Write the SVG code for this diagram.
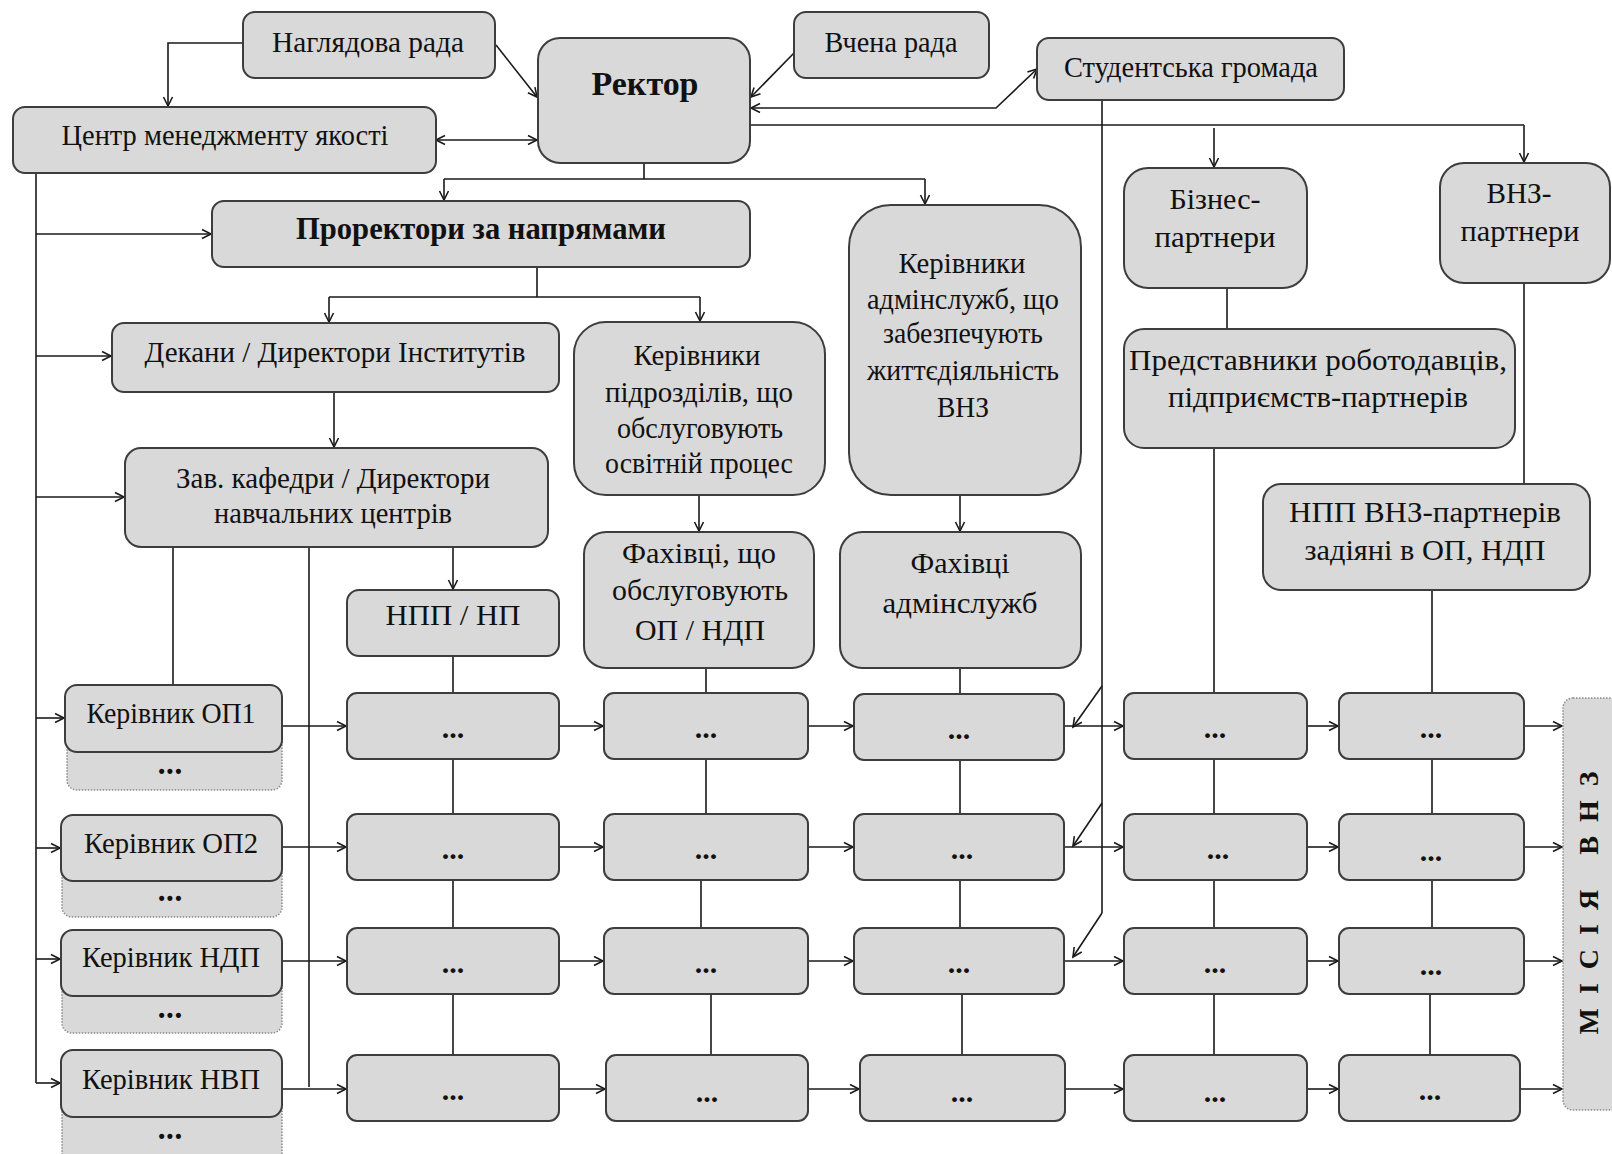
<svg xmlns="http://www.w3.org/2000/svg" width="1612" height="1154" viewBox="0 0 1612 1154">
<defs>
<marker id="ah" markerWidth="12" markerHeight="12" refX="10" refY="6" orient="auto-start-reverse" markerUnits="userSpaceOnUse">
<path d="M1,1.5 L10,6 L1,10.5" fill="none" stroke="#1a1a1a" stroke-width="1.6"/>
</marker>
<style>
.box{fill:#d9d9d9;stroke:#3d3d3d;stroke-width:2}
.dot{fill:#d9d9d9;stroke:#8a8a8a;stroke-width:1.5;stroke-dasharray:1.5 1.5}
.t{font-family:"Liberation Serif","Times New Roman",serif;font-size:29px;fill:#111;text-anchor:middle}
.b{font-weight:bold}
.e{font-family:"Liberation Serif","Times New Roman",serif;font-size:30px;font-weight:bold;fill:#111;text-anchor:middle}
.bul{font-family:"Liberation Sans",Arial,sans-serif;font-size:18px;font-weight:bold;fill:#111;text-anchor:middle;letter-spacing:2px}
.ln{fill:none;stroke:#1a1a1a;stroke-width:1.6}
.ar{marker-end:url(#ah)}
.ar2{marker-start:url(#ah);marker-end:url(#ah)}
</style>
</defs>
<rect width="1612" height="1154" fill="#ffffff"/>

<g id="connectors">
<path class="ln ar" d="M243,43 H168 V106"/>
<path class="ln ar" d="M496,45 L537,97"/>
<path class="ln ar" d="M794,53 L751,97"/>
<path class="ln ar2" d="M751,108 H996 L1037,69"/>
<path class="ln ar2" d="M436,140 H537"/>
<path class="ln" d="M750,125 H1524"/>
<path class="ln ar" d="M1524,125 V162"/>
<path class="ln ar" d="M1214,128 V167"/>
<path class="ln" d="M644,163 V179 M444,179 H925"/>
<path class="ln ar" d="M444,179 V200"/>
<path class="ln ar" d="M925,179 V204"/>
<path class="ln" d="M537,267 V297 M329,297 H700"/>
<path class="ln ar" d="M329,297 V322"/>
<path class="ln ar" d="M700,297 V321"/>
<path class="ln ar" d="M334,392 V447"/>
<path class="ln ar" d="M453,547 V589"/>
<path class="ln ar" d="M699,495 V531"/>
<path class="ln ar" d="M960,495 V531"/>
<path class="ln" d="M1227,288 V329"/>
<path class="ln" d="M1524,283 V484"/>
<path class="ln" d="M36,173 V1083"/>
<path class="ln ar" d="M36,234 H211"/>
<path class="ln ar" d="M36,356 H111"/>
<path class="ln ar" d="M36,497 H124"/>
<path class="ln ar" d="M36,718 H64"/>
<path class="ln ar" d="M36,848 H60"/>
<path class="ln ar" d="M36,959 H60"/>
<path class="ln ar" d="M36,1083 H60"/>
<path class="ln" d="M173,547 V685"/>
<path class="ln" d="M309,547 V1087"/>
<path class="ln" d="M1102,100 V913"/>
<path class="ln ar" d="M1102,913 L1073,957"/>
<path class="ln ar" d="M1102,686 L1073,727"/>
<path class="ln ar" d="M1102,803 L1073,846"/>
<path class="ln" d="M453,656 V693 M453,759 V814 M453,880 V928 M453,994 V1055"/>
<path class="ln" d="M706,668 V693 M706,759 V814 M701,880 V928 M711,994 V1055"/>
<path class="ln" d="M960,668 V693 M960,759 V814 M960,880 V928 M962,994 V1055"/>
<path class="ln" d="M1214,448 V693 M1214,759 V814 M1214,880 V928 M1214,994 V1055"/>
<path class="ln" d="M1432,590 V693 M1432,759 V814 M1432,880 V928 M1430,994 V1055"/>
<path class="ln ar" d="M282,726 H346"/>
<path class="ln ar" d="M559,726 H603"/>
<path class="ln ar" d="M808,726 H853"/>
<path class="ln ar" d="M1064,726 H1123"/>
<path class="ln ar" d="M1307,726 H1338"/>
<path class="ln ar" d="M1524,726 H1562"/>
<path class="ln ar" d="M282,847 H346"/>
<path class="ln ar" d="M559,847 H603"/>
<path class="ln ar" d="M808,847 H853"/>
<path class="ln ar" d="M1064,847 H1123"/>
<path class="ln ar" d="M1307,847 H1338"/>
<path class="ln ar" d="M1524,847 H1562"/>
<path class="ln ar" d="M282,961 H346"/>
<path class="ln ar" d="M559,961 H603"/>
<path class="ln ar" d="M808,961 H853"/>
<path class="ln ar" d="M1064,961 H1123"/>
<path class="ln ar" d="M1307,961 H1338"/>
<path class="ln ar" d="M1524,961 H1562"/>
<path class="ln ar" d="M282,1089 H346"/>
<path class="ln ar" d="M559,1089 H605"/>
<path class="ln ar" d="M808,1089 H859"/>
<path class="ln ar" d="M1065,1089 H1123"/>
<path class="ln ar" d="M1307,1089 H1338"/>
<path class="ln ar" d="M1520,1089 H1562"/>
</g>

<g id="n-nahliadova"><rect class="box" x="243" y="12" width="252" height="66" rx="12"/><text class="t" x="368" y="52" textLength="192" lengthAdjust="spacingAndGlyphs">Наглядова  рада</text></g>
<g id="n-rektor"><rect class="box" x="538" y="38" width="212" height="125" rx="22"/><text class="t b" x="645" y="95" style="font-size:34px" textLength="107" lengthAdjust="spacingAndGlyphs">Ректор</text></g>
<g id="n-vchena"><rect class="box" x="794" y="12" width="195" height="66" rx="12"/><text class="t" x="891" y="52" textLength="133" lengthAdjust="spacingAndGlyphs">Вчена рада</text></g>
<g id="n-student"><rect class="box" x="1037" y="38" width="307" height="62" rx="12"/><text class="t" x="1191" y="77" textLength="254" lengthAdjust="spacingAndGlyphs">Студентська громада</text></g>
<g id="n-centr"><rect class="box" x="13" y="107" width="423" height="66" rx="12"/><text class="t" x="225" y="145" textLength="327" lengthAdjust="spacingAndGlyphs">Центр менеджменту якості</text></g>
<g id="n-prorektory"><rect class="box" x="212" y="201" width="538" height="66" rx="12"/><text class="t b" x="481" y="239" style="font-size:31px" textLength="370" lengthAdjust="spacingAndGlyphs">Проректори за напрямами</text></g>
<g id="n-admin"><rect class="box" x="849" y="205" width="232" height="290" rx="42"/>
<text class="t" x="962" y="273" textLength="127" lengthAdjust="spacingAndGlyphs">Керівники</text>
<text class="t" x="963" y="309" textLength="192" lengthAdjust="spacingAndGlyphs">адмінслужб, що</text>
<text class="t" x="963" y="343" textLength="160" lengthAdjust="spacingAndGlyphs">забезпечують</text>
<text class="t" x="963" y="380" textLength="192" lengthAdjust="spacingAndGlyphs">життєдіяльність</text>
<text class="t" x="963" y="417" textLength="52" lengthAdjust="spacingAndGlyphs">ВНЗ</text></g>
<g id="n-biznes"><rect class="box" x="1124" y="168" width="183" height="120" rx="24"/>
<text class="t" x="1215" y="209" textLength="91" lengthAdjust="spacingAndGlyphs">Бізнес-</text>
<text class="t" x="1215" y="247" textLength="121" lengthAdjust="spacingAndGlyphs">партнери</text></g>
<g id="n-vnz"><rect class="box" x="1440" y="163" width="170" height="120" rx="24"/>
<text class="t" x="1519" y="203" textLength="65" lengthAdjust="spacingAndGlyphs">ВНЗ-</text>
<text class="t" x="1520" y="241" textLength="119" lengthAdjust="spacingAndGlyphs">партнери</text></g>
<g id="n-dekany"><rect class="box" x="112" y="323" width="447" height="69" rx="12"/><text class="t" x="335" y="362" textLength="381" lengthAdjust="spacingAndGlyphs">Декани / Директори Інститутів</text></g>
<g id="n-pidrozdily"><rect class="box" x="574" y="322" width="251" height="173" rx="32"/>
<text class="t" x="697" y="365" textLength="127" lengthAdjust="spacingAndGlyphs">Керівники</text>
<text class="t" x="699" y="402" textLength="188" lengthAdjust="spacingAndGlyphs">підрозділів, що</text>
<text class="t" x="700" y="438" textLength="166" lengthAdjust="spacingAndGlyphs">обслуговують</text>
<text class="t" x="699" y="473" textLength="188" lengthAdjust="spacingAndGlyphs">освітній процес</text></g>
<g id="n-predstavnyky"><rect class="box" x="1124" y="329" width="391" height="119" rx="20"/>
<text class="t" x="1318" y="370" textLength="378" lengthAdjust="spacingAndGlyphs">Представники роботодавців,</text>
<text class="t" x="1318" y="407" textLength="300" lengthAdjust="spacingAndGlyphs">підприємств-партнерів</text></g>
<g id="n-zav"><rect class="box" x="125" y="448" width="423" height="99" rx="16"/>
<text class="t" x="333" y="488" textLength="314" lengthAdjust="spacingAndGlyphs">Зав. кафедри / Директори</text>
<text class="t" x="333" y="523" textLength="238" lengthAdjust="spacingAndGlyphs">навчальних центрів</text></g>
<g id="n-fakh-op"><rect class="box" x="584" y="532" width="230" height="136" rx="22"/>
<text class="t" x="699" y="563" textLength="154" lengthAdjust="spacingAndGlyphs">Фахівці, що</text>
<text class="t" x="700" y="600" textLength="176" lengthAdjust="spacingAndGlyphs">обслуговують</text>
<text class="t" x="700" y="640" textLength="130" lengthAdjust="spacingAndGlyphs">ОП / НДП</text></g>
<g id="n-fakh-admin"><rect class="box" x="840" y="532" width="241" height="136" rx="22"/>
<text class="t" x="960" y="573" textLength="99" lengthAdjust="spacingAndGlyphs">Фахівці</text>
<text class="t" x="960" y="613" textLength="155" lengthAdjust="spacingAndGlyphs">адмінслужб</text></g>
<g id="n-npp"><rect class="box" x="347" y="590" width="212" height="66" rx="12"/><text class="t" x="453" y="625" textLength="135" lengthAdjust="spacingAndGlyphs">НПП / НП</text></g>
<g id="n-npp-vnz"><rect class="box" x="1263" y="484" width="327" height="106" rx="18"/>
<text class="t" x="1425" y="522" textLength="272" lengthAdjust="spacingAndGlyphs">НПП ВНЗ-партнерів</text>
<text class="t" x="1425" y="560" textLength="241" lengthAdjust="spacingAndGlyphs">задіяні в ОП, НДП</text></g>

<g id="n-op1"><rect class="dot" x="67" y="720" width="215" height="70" rx="10"/><text class="bul" x="171" y="777">•••</text>
<rect class="box" x="65" y="685" width="217" height="67" rx="12"/><text class="t" x="171" y="723" textLength="169" lengthAdjust="spacingAndGlyphs">Керівник ОП1</text></g>
<g id="n-op2"><rect class="dot" x="62" y="850" width="220" height="67" rx="10"/><text class="bul" x="171" y="904">•••</text>
<rect class="box" x="61" y="815" width="221" height="66" rx="12"/><text class="t" x="171" y="853" textLength="174" lengthAdjust="spacingAndGlyphs">Керівник ОП2</text></g>
<g id="n-ndp"><rect class="dot" x="62" y="965" width="220" height="68" rx="10"/><text class="bul" x="171" y="1021">•••</text>
<rect class="box" x="61" y="930" width="221" height="66" rx="12"/><text class="t" x="171" y="967" textLength="178" lengthAdjust="spacingAndGlyphs">Керівник НДП</text></g>
<g id="n-nvp"><rect class="dot" x="62" y="1085" width="220" height="80" rx="10"/><text class="bul" x="171" y="1142">•••</text>
<rect class="box" x="61" y="1050" width="221" height="67" rx="12"/><text class="t" x="171" y="1089" textLength="178" lengthAdjust="spacingAndGlyphs">Керівник НВП</text></g>

<g id="n-r1a"><rect class="box" x="347" y="693" width="212" height="66" rx="10"/><text class="e" x="453" y="738">...</text></g>
<g id="n-r1b"><rect class="box" x="604" y="693" width="204" height="66" rx="10"/><text class="e" x="706" y="738">...</text></g>
<g id="n-r1c"><rect class="box" x="854" y="694" width="210" height="66" rx="10"/><text class="e" x="959" y="739">...</text></g>
<g id="n-r1d"><rect class="box" x="1124" y="693" width="183" height="66" rx="10"/><text class="e" x="1215" y="738">...</text></g>
<g id="n-r1e"><rect class="box" x="1339" y="693" width="185" height="66" rx="10"/><text class="e" x="1431" y="738">...</text></g>

<g id="n-r2a"><rect class="box" x="347" y="814" width="212" height="66" rx="10"/><text class="e" x="453" y="859">...</text></g>
<g id="n-r2b"><rect class="box" x="604" y="814" width="204" height="66" rx="10"/><text class="e" x="706" y="859">...</text></g>
<g id="n-r2c"><rect class="box" x="854" y="814" width="210" height="66" rx="10"/><text class="e" x="962" y="859">...</text></g>
<g id="n-r2d"><rect class="box" x="1124" y="814" width="183" height="66" rx="10"/><text class="e" x="1218" y="859">...</text></g>
<g id="n-r2e"><rect class="box" x="1339" y="814" width="185" height="66" rx="10"/><text class="e" x="1431" y="861">...</text></g>

<g id="n-r3a"><rect class="box" x="347" y="928" width="212" height="66" rx="10"/><text class="e" x="453" y="973">...</text></g>
<g id="n-r3b"><rect class="box" x="604" y="928" width="204" height="66" rx="10"/><text class="e" x="706" y="973">...</text></g>
<g id="n-r3c"><rect class="box" x="854" y="928" width="210" height="66" rx="10"/><text class="e" x="959" y="973">...</text></g>
<g id="n-r3d"><rect class="box" x="1124" y="928" width="183" height="66" rx="10"/><text class="e" x="1215" y="973">...</text></g>
<g id="n-r3e"><rect class="box" x="1339" y="928" width="185" height="66" rx="10"/><text class="e" x="1431" y="975">...</text></g>

<g id="n-r4a"><rect class="box" x="347" y="1055" width="212" height="66" rx="10"/><text class="e" x="453" y="1100">...</text></g>
<g id="n-r4b"><rect class="box" x="606" y="1055" width="202" height="66" rx="10"/><text class="e" x="707" y="1102">...</text></g>
<g id="n-r4c"><rect class="box" x="860" y="1055" width="205" height="66" rx="10"/><text class="e" x="962" y="1102">...</text></g>
<g id="n-r4d"><rect class="box" x="1124" y="1055" width="183" height="66" rx="10"/><text class="e" x="1215" y="1102">...</text></g>
<g id="n-r4e"><rect class="box" x="1339" y="1055" width="181" height="66" rx="10"/><text class="e" x="1430" y="1100">...</text></g>

<g id="n-misiia"><rect class="dot" x="1563" y="698" width="70" height="412" rx="10"/>
<text class="t b" transform="translate(1598,903) rotate(-90)" x="0" y="0" style="font-size:28px" textLength="263">МІСІЯ ВНЗ</text></g>
</svg>
